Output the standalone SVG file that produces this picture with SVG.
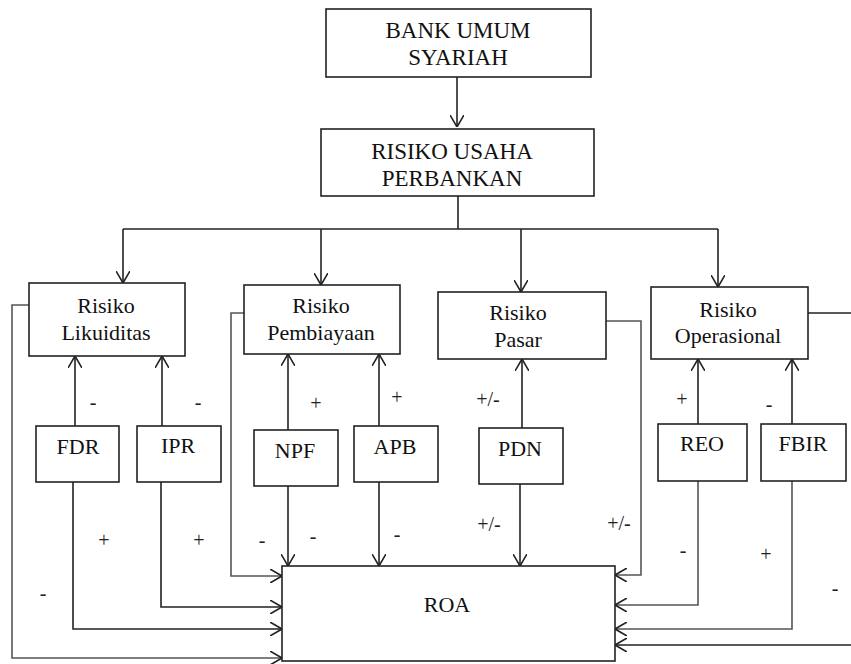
<svg xmlns="http://www.w3.org/2000/svg" width="851" height="664" viewBox="0 0 851 664">
<style>
.box{fill:#fff;stroke:#222;stroke-width:1.6}
.c{fill:none;stroke:#222;stroke-width:1.6}
.g{fill:none;stroke:#555;stroke-width:1.6}
</style>
<defs>
<marker id="ah" viewBox="0 0 12 14" refX="12" refY="7" markerWidth="12" markerHeight="14" markerUnits="userSpaceOnUse" orient="auto">
<path d="M0,0 L12,7 L0,14" fill="none" stroke="#222" stroke-width="1.6"/>
</marker>
</defs>
<rect width="851" height="664" fill="#fff"/>
<g id="connectors">
<path class="c" d="M457,77 V127" marker-end="url(#ah)"/>
<path class="c" d="M458,196 V229"/>
<path class="c" d="M123,229 H718"/>
<path class="c" d="M123,229 V283" marker-end="url(#ah)"/>
<path class="c" d="M321,229 V285" marker-end="url(#ah)"/>
<path class="c" d="M521,229 V292" marker-end="url(#ah)"/>
<path class="c" d="M718,229 V287" marker-end="url(#ah)"/>
<path class="c" d="M75,426 V356" marker-end="url(#ah)"/>
<path class="c" d="M162,426 V356" marker-end="url(#ah)"/>
<path class="c" d="M73,482 V629 H282" marker-end="url(#ah)"/>
<path class="c" d="M161,482 V607 H282" marker-end="url(#ah)"/>
<path class="g" d="M29,305 H12 V658 H282" marker-end="url(#ah)"/>
<path class="g" d="M244,313 H231 V576 H282" marker-end="url(#ah)"/>
<path class="c" d="M288,430 V354" marker-end="url(#ah)"/>
<path class="c" d="M379,426 V354" marker-end="url(#ah)"/>
<path class="c" d="M288,486 V566" marker-end="url(#ah)"/>
<path class="c" d="M379,482 V566" marker-end="url(#ah)"/>
<path class="c" d="M522,428 V359" marker-end="url(#ah)"/>
<path class="c" d="M520,484 V566" marker-end="url(#ah)"/>
<path class="g" d="M606,321 H641 V575 H615" marker-end="url(#ah)"/>
<path class="c" d="M698,424 V359" marker-end="url(#ah)"/>
<path class="c" d="M792,424 V359" marker-end="url(#ah)"/>
<path class="g" d="M698,481 V605 H615" marker-end="url(#ah)"/>
<path class="g" d="M792,481 V629 H615" marker-end="url(#ah)"/>
<path class="c" d="M808,313 H851"/>
<path class="c" d="M851,645 H615" marker-end="url(#ah)"/>
</g>
<g id="labels" font-family="Liberation Serif, Times New Roman, serif" font-size="20" fill="#222" text-anchor="middle">
<text x="93" y="409">-</text>
<text x="198" y="409">-</text>
<text x="104" y="547">+</text>
<text x="199" y="547">+</text>
<text x="43" y="600">-</text>
<text x="262" y="547">-</text>
<text x="316" y="410">+</text>
<text x="397" y="404">+</text>
<text x="313" y="543">-</text>
<text x="397" y="541">-</text>
<text x="488" y="406">+/-</text>
<text x="489" y="531">+/-</text>
<text x="619" y="530">+/-</text>
<text x="682" y="406">+</text>
<text x="769" y="411">-</text>
<text x="683" y="557">-</text>
<text x="766" y="561">+</text>
<text x="835" y="595">-</text>
</g>
<g font-family="Liberation Serif, Times New Roman, serif" font-size="22" fill="#111" text-anchor="middle">
<g id="bank" font-size="23">
<rect class="box" x="326" y="9" width="265" height="68"/>
<text x="458" y="38">BANK UMUM</text>
<text x="458" y="65">SYARIAH</text>
</g>
<g id="risiko-usaha" font-size="23">
<rect class="box" x="321" y="129" width="273" height="67"/>
<text x="452" y="159">RISIKO USAHA</text>
<text x="452" y="186">PERBANKAN</text>
</g>
<g id="likuiditas">
<rect class="box" x="29" y="283" width="156" height="73"/>
<text x="106" y="313">Risiko</text>
<text x="106" y="340">Likuiditas</text>
</g>
<g id="pembiayaan">
<rect class="box" x="244" y="285" width="156" height="69"/>
<text x="321" y="313">Risiko</text>
<text x="321" y="340">Pembiayaan</text>
</g>
<g id="pasar">
<rect class="box" x="438" y="292" width="168" height="67"/>
<text x="518" y="320">Risiko</text>
<text x="518" y="347">Pasar</text>
</g>
<g id="operasional">
<rect class="box" x="651" y="287" width="157" height="72"/>
<text x="728" y="317">Risiko</text>
<text x="728" y="343">Operasional</text>
</g>
<g id="fdr"><rect class="box" x="36" y="426" width="83" height="56"/><text x="78" y="454">FDR</text></g>
<g id="ipr"><rect class="box" x="137" y="426" width="84" height="56"/><text x="178" y="453">IPR</text></g>
<g id="npf"><rect class="box" x="254" y="430" width="84" height="56"/><text x="295" y="458">NPF</text></g>
<g id="apb"><rect class="box" x="354" y="426" width="84" height="56"/><text x="395" y="454">APB</text></g>
<g id="pdn"><rect class="box" x="479" y="428" width="84" height="56"/><text x="520" y="456">PDN</text></g>
<g id="reo"><rect class="box" x="658" y="424" width="89" height="57"/><text x="702" y="451">REO</text></g>
<g id="fbir"><rect class="box" x="761" y="424" width="85" height="57"/><text x="803" y="451">FBIR</text></g>
<g id="roa">
<rect class="box" x="282" y="566" width="333" height="95"/>
<text x="447" y="612">ROA</text>
</g>
</g>
</svg>
